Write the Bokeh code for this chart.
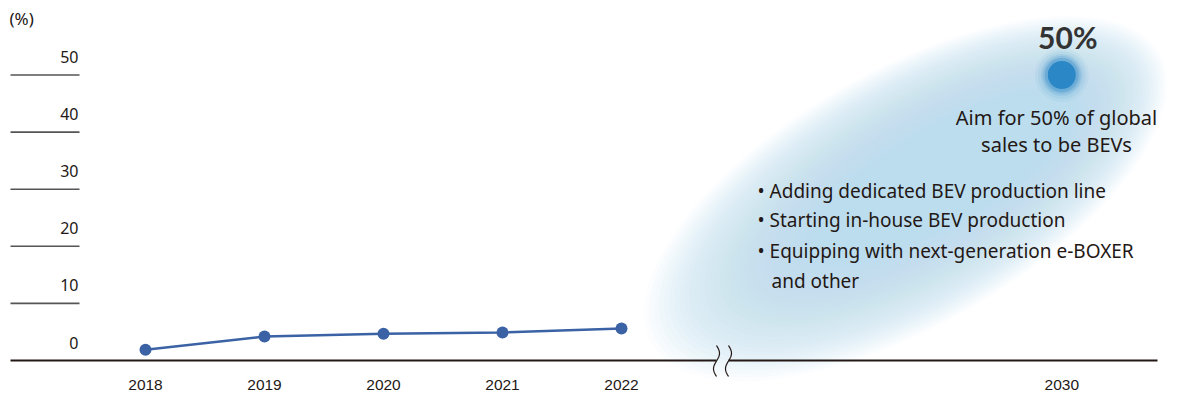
import numpy as np
from bokeh.plotting import figure
from bokeh.models import Range1d
from bokeh.core.properties import value
from bokeh.embed import file_html
from bokeh.resources import INLINE

# ---------------- data ----------------
years = ["2018", "2019", "2020", "2021", "2022"]
share = [1.9, 4.2, 4.7, 4.9, 5.6]
target_year = "2030"
target_share = 50
y_ticks = [0, 10, 20, 30, 40, 50]
y_unit = "(%)"
target_label = "50%"
target_note = ["Aim for 50% of global", "sales to be BEVs"]
bullets = ["• Adding dedicated BEV production line",
           "• Starting in-house BEV production",
           "• Equipping with next-generation e-BOXER",
           "and other"]

# ---------------- layout ----------------
W, H = 1198, 397
OFF = 0                              # figure offset on the page
X0_PAGE, X_STEP = 145.0, 119.0      # page px of first year, px per year slot
Y0_PAGE, Y_PX = 360.0, 5.71         # page px of 0 %, px per 1 %
slot = {y: i for i, y in enumerate(years)}
slot[target_year] = 7.7            # broken axis: 2030 sits after the gap

def xd(px):   # page px -> data x
    return (px - X0_PAGE) / X_STEP

def yd(py):   # page py -> data y
    return (Y0_PAGE - py) / Y_PX

FONT = "Noto Sans"
NUMFONT = "Liberation Sans"
DARK = "#231815"

p = figure(width=W, height=H, output_backend="svg", toolbar_location=None,
           x_range=Range1d(xd(OFF), xd(OFF + W)), y_range=Range1d(yd(OFF + H), yd(OFF)),
           min_border=0, outline_line_color=None)
p.axis.visible = False
p.grid.visible = False
p.background_fill_color = "white"

# ---- glow (soft ellipse) ----
n = 36
for k in range(n):
    t = k / (n - 1)
    cxp = 905 + 40 * t
    cyp = 198 - 25 * t
    p.ellipse(x=xd(cxp), y=yd(cyp),
              width=585 - 300 * t, height=255 - 170 * t,
              width_units="screen", height_units="screen",
              angle=0.52, fill_color="#c2e2f5", fill_alpha=0.06, line_color=None)

# ---- target blob ----
tx = slot[target_year]
for r, a in [(27, 0.05), (24, 0.08), (21, 0.12), (19, 0.18), (17, 0.3)]:
    p.scatter(x=[tx], y=[target_share], size=2 * r, marker="circle",
              fill_color="#2b87c6", fill_alpha=a, line_color=None)
p.scatter(x=[tx], y=[target_share], size=28, marker="circle",
          fill_color="#2b87c6", line_color=None)

# ---- y ticks (short lines) and labels ----
for v in y_ticks[1:]:
    p.segment(x0=[xd(10)], y0=[v], x1=[xd(79)], y1=[v], line_color="#555555", line_width=1.6)
p.text(x=[xd(78)] * len(y_ticks), y=y_ticks, text=[str(v) for v in y_ticks],
       text_align="right", text_baseline="middle", y_offset=-18,
       text_font=value(FONT), text_font_size="16px", text_color=DARK)
p.text(x=[xd(9)], y=[yd(18)], text=[y_unit], text_align="left", text_baseline="middle",
       text_font=value(FONT), text_font_size="17px", text_color=DARK)

# ---- baseline with break ----
p.segment(x0=[xd(10), xd(728)], y0=[0, 0], x1=[xd(716), xd(1157)], y1=[0, 0],
          line_color=DARK, line_width=2)
tt = np.linspace(0, 1, 30)
for cx in (716, 728):
    p.line(x=[xd(cx + 3 * np.sin(2 * np.pi * s)) for s in tt],
           y=[yd(345 + 31 * s) for s in tt], line_color=DARK, line_width=1.2)

# ---- series ----
xs = [slot[y] for y in years]
p.line(x=xs, y=share, line_color="#3a62a5", line_width=2.5)
p.scatter(x=xs, y=share, size=12, marker="circle", fill_color="#3a62a5", line_color=None)

# ---- year labels ----
all_years = years + [target_year]
p.text(x=[slot[y] for y in all_years], y=[yd(384)] * len(all_years), text=all_years,
       text_align="center", text_baseline="middle",
       text_font=value(NUMFONT), text_font_size="15.5px", text_color=DARK)

# ---- annotations ----
p.text(x=[tx], y=[target_share], text=[target_label], x_offset=6, y_offset=-38,
       text_align="center", text_baseline="middle", text_font=value("Lato"),
       text_font_style="bold", text_font_size="30px", text_color="#333333")
p.text(x=[xd(1056)] * 2, y=[yd(117), yd(144)], text=target_note,
       text_align="center", text_baseline="middle", text_font=value(FONT),
       text_font_size="20px", text_color=DARK)
p.text(x=[xd(757), xd(757), xd(757), xd(771)],
       y=[yd(190), yd(219), yd(250), yd(280)], text=bullets,
       text_align="left", text_baseline="middle", text_font=value(FONT),
       text_font_size="19px", text_color=DARK)

open("out.html", "w").write(file_html(p, INLINE))
